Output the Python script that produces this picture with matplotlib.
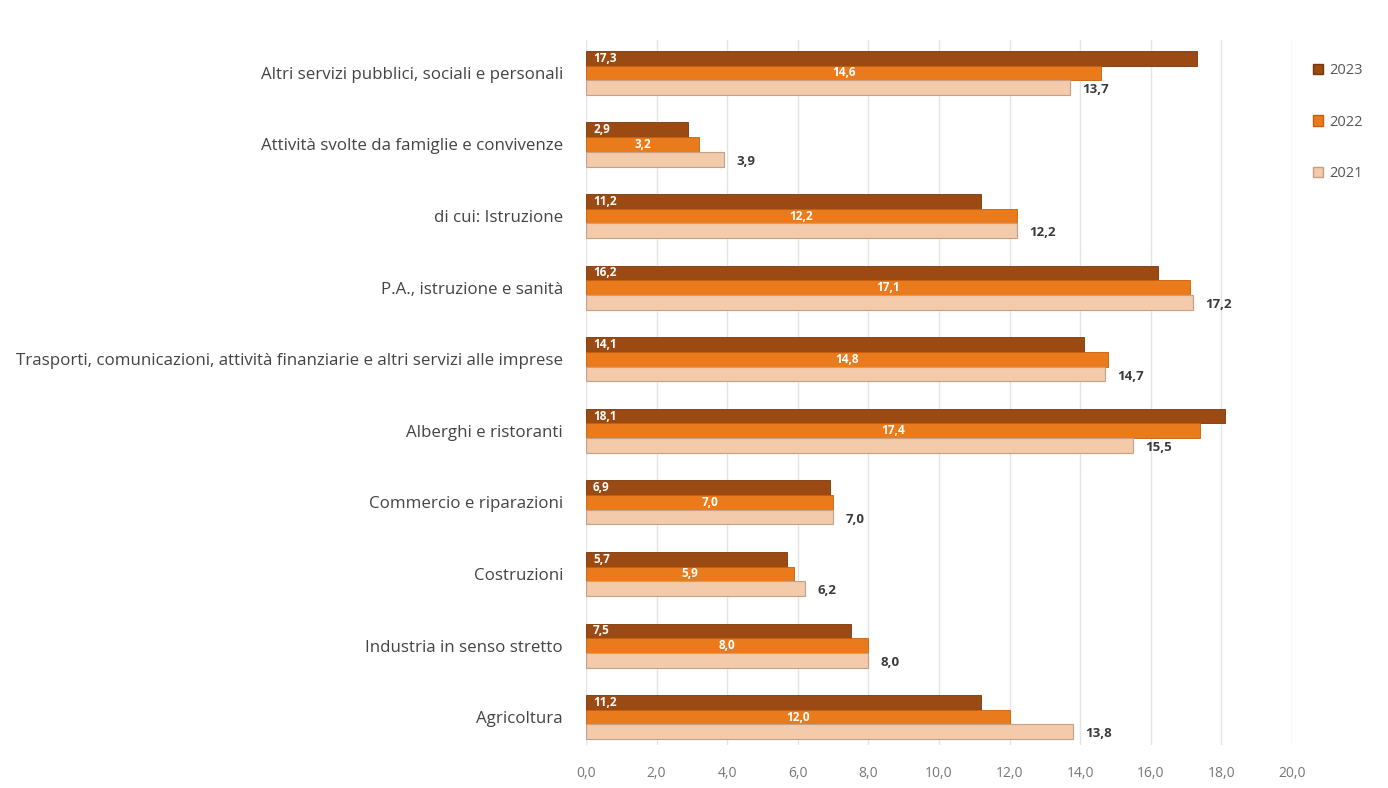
import numpy as np
import matplotlib
matplotlib.use("Agg")
import matplotlib.pyplot as plt
from matplotlib.patches import Patch

plt.rcParams['font.family'] = ['Open Sans', 'DejaVu Sans']

# data, top to bottom as in the chart
categories = [
    "Altri servizi pubblici, sociali e personali",
    "Attività svolte da famiglie e convivenze",
    "di cui: Istruzione",
    "P.A., istruzione e sanità",
    "Trasporti, comunicazioni, attività finanziarie e altri servizi alle imprese",
    "Alberghi e ristoranti",
    "Commercio e riparazioni",
    "Costruzioni",
    "Industria in senso stretto",
    "Agricoltura",
]
v2023 = [17.3, 2.9, 11.2, 16.2, 14.1, 18.1, 6.9, 5.7, 7.5, 11.2]
v2022 = [14.6, 3.2, 12.2, 17.1, 14.8, 17.4, 7.0, 5.9, 8.0, 12.0]
v2021 = [13.7, 3.9, 12.2, 17.2, 14.7, 15.5, 7.0, 6.2, 8.0, 13.8]
years = ["2023", "2022", "2021"]
xticks = np.arange(0, 21, 2)

col23 = "#9a4a12"
col22 = "#ea7b1c"
col21 = "#f3cbaa"

fig = plt.figure(figsize=(13.88, 7.88), dpi=100)
ax = fig.add_axes([586/1388, 43/788, 706/1388, 705/788])

y = np.arange(len(categories))
h = 0.205
ax.barh(y - h, v2023, height=h, color=col23, edgecolor="#7a3608", linewidth=0.6, zorder=3)
ax.barh(y, v2022, height=h, color=col22, edgecolor="#c85f0c", linewidth=0.6, zorder=3)
ax.barh(y + h, v2021, height=h, color=col21, edgecolor="#c79e86", linewidth=0.8, zorder=3)

fmt = lambda v: f"{v:.1f}".replace(".", ",")
for i in range(len(categories)):
    ax.text(0.2, y[i] - h, fmt(v2023[i]), color="white", fontsize=8.5,
            fontweight="bold", va="center", ha="left", zorder=4)
    ax.text(v2022[i] / 2, y[i], fmt(v2022[i]), color="white", fontsize=8.5,
            fontweight="bold", va="center", ha="center", zorder=4)
    ax.text(v2021[i] + 0.35, y[i] + h + 0.03, fmt(v2021[i]), color="#3a3a3a", fontsize=9.5,
            fontweight="bold", va="center", ha="left", zorder=4)

ax.set_xlim(0, 20)
ax.set_ylim(len(categories) - 1 + 0.39, -0.46)
ax.set_xticks(xticks)
ax.set_xticklabels([fmt(t) for t in xticks], fontsize=10, color="#777777")
ax.set_yticks(y)
ax.set_yticklabels(categories, fontsize=12.2, color="#444444")
ax.tick_params(length=0)
ax.tick_params(axis="x", pad=15)
ax.tick_params(axis="y", pad=16.5)
ax.grid(axis="x", color="#e4e4e4", linewidth=1, zorder=0)
for s in ax.spines.values():
    s.set_visible(False)

handles = [Patch(facecolor=c, edgecolor=e) for c, e in
           [(col23, "#7a3608"), (col22, "#c85f0c"), (col21, "#c79e86")]]
fig.legend(handles, years, loc="upper left", bbox_to_anchor=(1300/1388, 1 - 50/788),
           frameon=False, fontsize=10.5, labelcolor="#555555", handlelength=0.7,
           handleheight=0.7, handletextpad=0.4, labelspacing=2.5)

fig.savefig("out.png", dpi=100)
